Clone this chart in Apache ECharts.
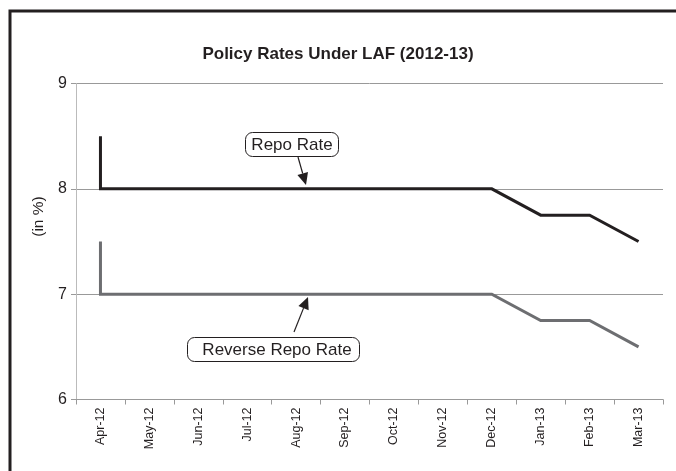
<!DOCTYPE html>
<html>
<head>
<meta charset="utf-8">
<script src="https://cdn.jsdelivr.net/npm/echarts@6/dist/echarts.min.js"></script>
<style>html,body{margin:0;padding:0;background:#fff}#c{width:676px;height:471px}</style>
</head>
<body>
<div id="c"></div>
<script>
var categories = ['Apr-12','May-12','Jun-12','Jul-12','Aug-12','Sep-12','Oct-12','Nov-12','Dec-12','Jan-13','Feb-13','Mar-13'];
// first point of each series is the opening level in Apr-12 (before the cut within the month)
var repoCats = ['Apr-12','Apr-12','May-12','Jun-12','Jul-12','Aug-12','Sep-12','Oct-12','Nov-12','Dec-12','Jan-13','Feb-13','Mar-13'];
var repoRate = [8.5, 8, 8, 8, 8, 8, 8, 8, 8, 8, 7.75, 7.75, 7.5];
var reverseRepoRate = [7.5, 7, 7, 7, 7, 7, 7, 7, 7, 7, 6.75, 6.75, 6.5];
var yTicks = [6, 7, 8, 9];

var font = '"Liberation Sans", Arial, sans-serif';
var dark = '#231f20';

function pairs(cats, vals){ return cats.map(function(c,i){ return [c, vals[i]]; }); }

function arrow(x1,y1,x2,y2){
  var dx=x2-x1, dy=y2-y1, L=Math.sqrt(dx*dx+dy*dy), ux=dx/L, uy=dy/L;
  var hl=12, hw=5.5;
  var bx=x2-ux*hl, by=y2-uy*hl;
  return [
    {type:'line', shape:{x1:x1,y1:y1,x2:bx,y2:by}, style:{stroke:dark,lineWidth:1.2}, z:100},
    {type:'polygon', shape:{points:[[x2,y2],[bx-uy*hw,by+ux*hw],[bx+uy*hw,by-ux*hw]]}, style:{fill:dark}, z:100}
  ];
}

var chart = echarts.init(document.getElementById('c'), null, {renderer:'canvas'});
var graphics = [
  {type:'rect', shape:{x:10, y:11, width:720, height:520}, style:{fill:'none', stroke:dark, lineWidth:3}, z:100},
  {type:'rect', shape:{x:245.5, y:132.5, width:93, height:24, r:7}, style:{fill:'#fff', stroke:dark, lineWidth:1}, z:100},
  {type:'text', x:292, y:145, style:{text:'Repo Rate', font:'17px '+font, fill:dark, align:'center', verticalAlign:'middle'}, z:101},
  {type:'rect', shape:{x:187.5, y:337.5, width:172, height:24, r:7}, style:{fill:'#fff', stroke:dark, lineWidth:1}, z:100},
  {type:'text', x:277, y:350, style:{text:'Reverse Repo Rate', font:'17px '+font, fill:dark, align:'center', verticalAlign:'middle'}, z:101}
].concat(arrow(298,157,306,185)).concat(arrow(294,332,308,297));

chart.setOption({
  animation:false,
  backgroundColor:'#fff',
  title:{text:'Policy Rates Under LAF (2012-13)', left:'center', top:41,
    textStyle:{fontFamily:font, fontSize:17, fontWeight:'bold', color:dark}},
  grid:{left:76, right:13, top:83.5, bottom:71.5, containLabel:false},
  xAxis:{type:'category', data:categories, boundaryGap:true,
    axisLine:{lineStyle:{color:'#999', width:1}},
    axisTick:{show:true, length:5, lineStyle:{color:'#999'}},
    axisLabel:{rotate:90, fontFamily:font, fontSize:12.5, color:dark, margin:8}},
  yAxis:{type:'value', min:yTicks[0], max:yTicks[yTicks.length-1], interval:1,
    name:'(in %)', nameLocation:'middle', nameGap:27,
    nameTextStyle:{fontFamily:font, fontSize:15.5, color:dark, padding:[0,0,0,50]},
    axisLine:{show:true, lineStyle:{color:'#bbb', width:1}},
    axisTick:{show:true, length:5, lineStyle:{color:'#999'}},
    axisLabel:{fontFamily:font, fontSize:16, color:dark, margin:9},
    splitLine:{show:true, lineStyle:{color:'#999', width:1}}},
  series:[
    {name:'Repo Rate', type:'line', data:pairs(repoCats, repoRate), symbol:'none',
      lineStyle:{color:dark, width:3, join:'miter', cap:'butt'}},
    {name:'Reverse Repo Rate', type:'line', data:pairs(repoCats, reverseRepoRate), symbol:'none',
      lineStyle:{color:'#6d6e71', width:3, join:'miter', cap:'butt'}}
  ],
  graphic:graphics
});
</script>
</body>
</html>
